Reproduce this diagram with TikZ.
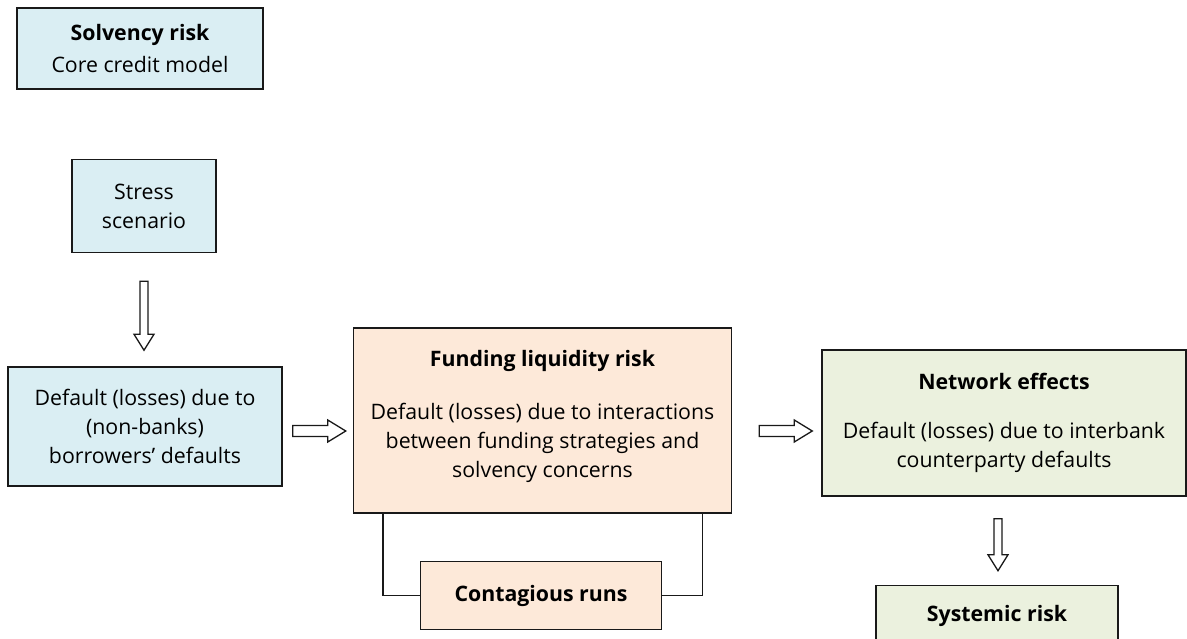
\documentclass[tikz,border=0pt]{standalone}
\usepackage{fontspec}
\setmainfont{Open Sans}
\usetikzlibrary{positioning,calc}
\definecolor{riskblue}{HTML}{DAEEF3}
\definecolor{riskpeach}{HTML}{FDE9D9}
\definecolor{riskgreen}{HTML}{EBF1DE}
\tikzstyle{box} = [rectangle, draw=black!90, line width=1.5pt, align=center,
font=\fontsize{21.3pt}{29pt}\selectfont, inner sep=0pt]
\tikzstyle{bluebox} = [box, fill=riskblue]
\tikzstyle{peachbox} = [box, fill=riskpeach]
\tikzstyle{greenbox} = [box, fill=riskgreen]
\tikzstyle{blockarrow} = [draw=black!90, line width=1.3pt, fill=white, line join=miter]
\tikzstyle{feedback} = [draw=black!90, line width=1.5pt]

\newcommand{\rightblock}[2]{%
  \path[blockarrow] let \p1=(#1), \p2=(#2) in
    (\x1,\y1+5.5pt) -- (\x2-18pt,\y1+5.5pt) -- (\x2-18pt,\y1+11pt) -- (\x2,\y1)
    -- (\x2-18pt,\y1-11pt) -- (\x2-18pt,\y1-5.5pt) -- (\x1,\y1-5.5pt) -- cycle;}
\newcommand{\downblock}[2]{%
  \path[blockarrow] let \p1=(#1), \p2=(#2) in
    (\x1-4pt,\y1) -- (\x1-4pt,\y2+16pt) -- (\x1-10pt,\y2+16pt) -- (\x1,\y2)
    -- (\x1+10pt,\y2+16pt) -- (\x1+4pt,\y2+16pt) -- (\x1+4pt,\y1) -- cycle;}

\begin{document}
\begin{tikzpicture}[x=1pt,y=-1pt]
         \clip (0,0) rectangle (1187,639);

         \node (solvency) [bluebox, minimum width=246pt, minimum height=81pt] at (140,48.5) {\textbf{Solvency risk}\\[3pt]Core credit model};
         \node (stress)   [bluebox, minimum width=144pt, minimum height=93pt, below=69pt of solvency, xshift=4pt] {Stress\\scenario};
         \node (losses)   [bluebox, minimum width=274pt, minimum height=119pt, below=113pt of stress, xshift=1pt] {Default (losses) due to\\(non-banks)\\borrowers' defaults};

         \node (funding)  [peachbox, minimum width=378pt, minimum height=185pt, right=70pt of losses, yshift=6pt] {\textbf{Funding liquidity risk}\\[24pt]Default (losses) due to interactions\\between funding strategies and\\solvency concerns\\[-15pt]\mbox{}};
         \node (runs)     [peachbox, minimum width=241pt, minimum height=68pt, below=47pt of funding, xshift=-1.5pt] {\textbf{Contagious runs}};

         \node (network)  [greenbox, minimum width=364pt, minimum height=146pt, right=89pt of funding, yshift=-2.5pt] {\textbf{Network effects}\\[20pt]Default (losses) due to interbank\\counterparty defaults};
         \node (systemic) [greenbox, minimum width=242pt, minimum height=60pt, below=88pt of network, xshift=-7pt] {\textbf{Systemic risk}};

         \downblock{$(stress.south)+(0,28)$}{$(losses.north)+(0,-16)$}
         \rightblock{$(losses.east)+(10,4.5)$}{$(funding.west)+(-7,0)$}
         \rightblock{$(funding.east)+(27,10.5)$}{$(network.west)+(-9,0)$}
         \downblock{$(network.south)+(-6,22)$}{$(systemic.north)+(0,-14)$}

         \path [feedback] ([xshift=30pt]funding.south west) |- (runs.west);
         \path [feedback] ([xshift=-30pt]funding.south east) |- (runs.east);

     \end{tikzpicture}
\end{document}
